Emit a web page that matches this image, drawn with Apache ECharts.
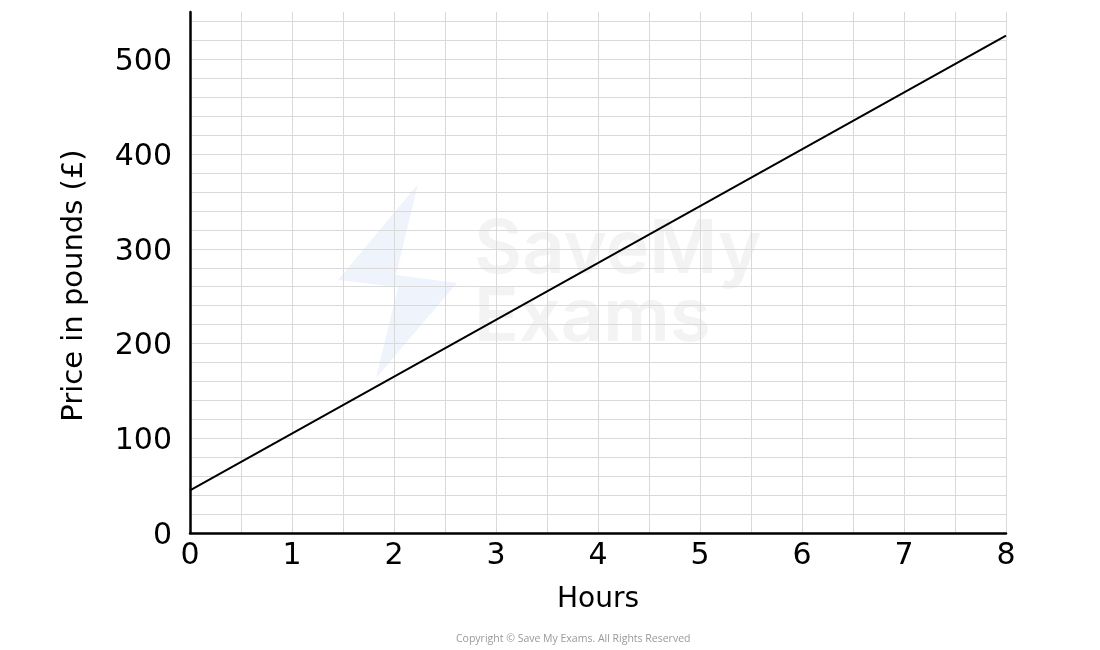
<!DOCTYPE html>
<html>
<head>
<meta charset="utf-8">
<script src="https://cdn.jsdelivr.net/npm/echarts@6/dist/echarts.min.js"></script>
<style>
  html, body { margin: 0; padding: 0; background: #fff; }
  #chart { width: 1100px; height: 650px; }
</style>
</head>
<body>
<div id="chart"></div>
<script>
// data
var hours = [0, 8];
var price = [45, 525];

var xTicks = [0, 1, 2, 3, 4, 5, 6, 7, 8];
var yTicks = [0, 100, 200, 300, 400, 500];

var xName = 'Hours';
var yName = 'Price in pounds (£)';
var copyright = 'Copyright © Save My Exams. All Rights Reserved';

var font = '"DejaVu Sans", sans-serif';

// y grid every 20, no line along the top edge (550)
var yGridColors = [];
for (var v = 0; v <= 540; v += 20) yGridColors.push('#d9d9d9');
yGridColors.push('transparent');

var myChart = echarts.init(document.getElementById('chart'));

var options = {
    animation: false,
    grid: {
        left: 190,
        right: 94,
        top: 12,
        bottom: 117
    },
    xAxis: {
        type: 'value',
        min: 0,
        max: 8,
        interval: 0.5,
        name: xName,
        nameLocation: 'middle',
        nameGap: 53,
        nameTextStyle: { color: '#000', fontSize: 28, fontFamily: font },
        axisLine: { lineStyle: { color: '#000', width: 2.5 } },
        axisTick: { show: false },
        axisLabel: {
            color: '#000',
            fontSize: 30,
            fontFamily: font,
            margin: 8,
            formatter: function (val) {
                return xTicks.indexOf(val) >= 0 ? String(val) : '';
            }
        },
        splitLine: { show: true, lineStyle: { color: '#d9d9d9', width: 1 } }
    },
    yAxis: {
        type: 'value',
        min: 0,
        max: 550,
        interval: 20,
        name: yName,
        nameLocation: 'middle',
        nameGap: 101,
        nameTextStyle: { color: '#000', fontSize: 29, fontFamily: font, padding: [0, 26, 0, 0] },
        axisLine: { show: true, lineStyle: { color: '#000', width: 2.5 } },
        axisTick: { show: false },
        axisLabel: {
            color: '#000',
            fontSize: 30,
            fontFamily: font,
            margin: 18,
            showMaxLabel: false,
            formatter: function (val) {
                return yTicks.indexOf(val) >= 0 ? '{n|' + val + '}' : '';
            },
            rich: {
                n: { color: '#000', fontSize: 30, fontFamily: font, padding: [6, 0, 0, 0] }
            }
        },
        splitLine: { show: true, lineStyle: { color: yGridColors, width: 1 } }
    },
    graphic: [
        {
            type: 'polygon',
            z: -10,
            shape: { points: [[418, 184], [396, 275], [457, 283], [376, 378], [398, 287], [338, 280]] },
            style: { fill: '#eef3fc' }
        },
        {
            type: 'text',
            z: -10,
            left: 474,
            top: 214,
            style: { text: 'SaveMy', fill: '#f3f3f3', font: '600 74px "Inter", sans-serif' }
        },
        {
            type: 'text',
            z: -10,
            left: 474,
            top: 282,
            style: { text: 'Exams', fill: '#f3f3f3', font: '600 74px "Inter", sans-serif' }
        },
        {
            type: 'text',
            left: 456,
            top: 634,
            style: { text: copyright, fill: '#999', font: '10.5px "Open Sans", sans-serif' }
        }
    ],
    series: [
        {
            type: 'line',
            data: hours.map(function (h, i) { return [h, price[i]]; }),
            symbol: 'none',
            lineStyle: { color: '#000', width: 2 },
            z: 5
        }
    ]
};

myChart.setOption(options);
</script>
</body>
</html>
